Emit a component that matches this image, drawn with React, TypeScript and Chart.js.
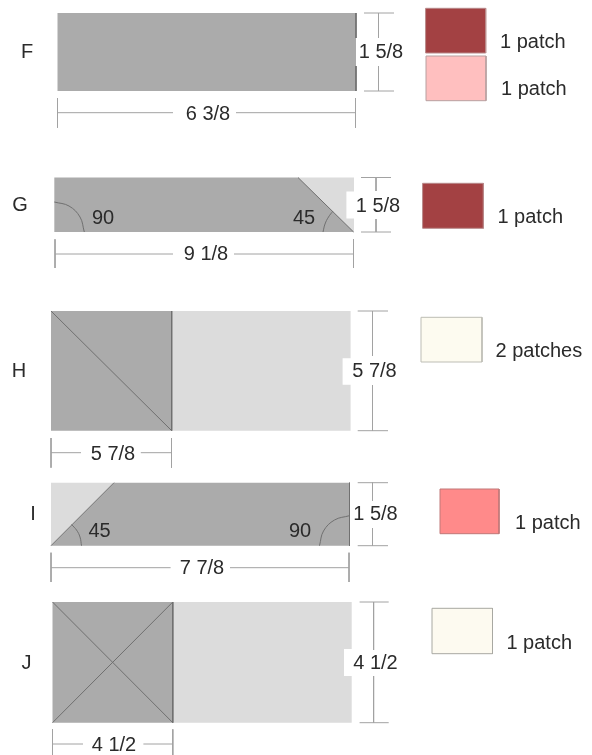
import React, { useEffect, useRef } from "react";
import { Chart, registerables } from "chart.js";

Chart.register(...registerables);

type P = [number, number];

const DARK = "#ababab";
const LIGHT = "#dcdcdc";
const WHITE = "#ffffff";
const DIM = "#a2a2a2";
const EDGE = "#707070";

// Grey template pieces: vertices, in page units
const lightPieces: P[][] = [
  [[298, 177.5], [354, 177.5], [354, 232], [298, 232]],
  [[171.7, 311], [350.6, 311], [350.6, 430.7], [171.7, 430.7]],
  [[51, 482.7], [114, 482.7], [51, 545.7]],
  [[172.8, 602], [351.7, 602], [351.7, 722.7], [172.8, 722.7]],
];
const darkPieces: P[][] = [
  [[57.5, 13], [356, 13], [356, 91], [57.5, 91]],
  [[54.3, 177.5], [298, 177.5], [353.6, 232], [54.3, 232]],
  [[51, 311], [171.7, 311], [171.7, 430.7], [51, 430.7]],
  [[114, 482.7], [349.5, 482.7], [349.5, 545.7], [51, 545.7]],
  [[52.5, 602], [172.8, 602], [172.8, 722.7], [52.5, 722.7]],
];
const labelNotches: P[][] = [
  [[346.4, 191.5], [356, 191.5], [356, 218.5], [346.4, 218.5]],
  [[342.6, 358.3], [352, 358.3], [352, 384.7], [342.6, 384.7]],
  [[344, 649], [353, 649], [353, 676], [344, 676]],
];

// Seam lines inside the pieces
const seams: P[][] = [
  [[356, 13], [356, 38]],
  [[356, 66], [356, 91]],
  [[298, 177.5], [353.6, 232]],
  [[51, 311], [171.7, 430.7]],
  [[171.7, 311], [171.7, 430.7]],
  [[114, 482.7], [51, 545.7]],
  [[349.5, 482.7], [349.5, 545.7]],
  [[52.5, 602], [172.8, 722.7]],
  [[52.5, 722.7], [172.8, 602]],
  [[172.8, 602], [172.8, 722.7]],
];

// Angle arcs (read as four points each, smoothed by the line's tension)
const angleArcs: P[][] = [
  [[54.3, 202], [69, 206], [80, 217], [84.3, 232]],
  [[323, 232], [325, 224], [328.5, 217], [333, 211]],
  [[71.5, 524.5], [76.5, 530], [80, 537], [81.5, 545.7]],
  [[319.5, 545.7], [323.5, 531], [334.5, 520], [349.5, 515.7]],
];

// Dimension lines: [start, end] pairs
const dimensionLines: P[][] = [
  // F
  [[364, 13], [394, 13]], [[364, 91], [394, 91]],
  [[378.5, 13], [378.5, 38]], [[378.5, 66], [378.5, 91]],
  [[57.5, 98], [57.5, 127.7]], [[355.5, 98], [355.5, 127.7]],
  [[57.5, 112.7], [173, 112.7]], [[236, 112.7], [355.5, 112.7]],
  // G
  [[361, 177.5], [391, 177.5]], [[361, 232], [391, 232]],
  [[376, 177.5], [376, 191]], [[376, 219], [376, 232]],
  [[55, 239.3], [55, 268]], [[353.5, 239.3], [353.5, 268]],
  [[55, 254], [173, 254]], [[234, 254], [353.5, 254]],
  // H
  [[357.7, 311], [388, 311]], [[357.7, 430.7], [388, 430.7]],
  [[372.5, 311], [372.5, 356]], [[372.5, 385], [372.5, 430.7]],
  [[51, 438], [51, 467.7]], [[171.5, 438], [171.5, 467.7]],
  [[51, 452.7], [81, 452.7]], [[140.8, 452.7], [171.5, 452.7]],
  // I
  [[357.7, 482.7], [388, 482.7]], [[357.7, 545.7], [388, 545.7]],
  [[372.5, 482.7], [372.5, 500.7]], [[372.5, 528], [372.5, 545.7]],
  [[51, 552.7], [51, 582]], [[349, 552.7], [349, 582]],
  [[51, 567.7], [170.6, 567.7]], [[230, 567.7], [349, 567.7]],
  // J
  [[359.6, 602], [388.7, 602]], [[359.6, 722.7], [388.7, 722.7]],
  [[373.6, 602], [373.6, 650]], [[373.6, 676], [373.6, 722.7]],
  [[52.5, 729.3], [52.5, 755]], [[172.8, 729.3], [172.8, 755]],
  [[52.5, 744], [83, 744]], [[143.4, 744], [172.8, 744]],
];

// Fabric swatches: [left, top, right, bottom, fill, border]
const swatches: [number, number, number, number, string, string][] = [
  [425.6, 8.3, 485.7, 53, "#a34143", "#b98a8b"],
  [426, 56, 486, 100.7, "#ffbfbf", "#b8a0a0"],
  [422.6, 183.3, 483.4, 228.3, "#a34143", "#b98a8b"],
  [421, 317.3, 482, 362, "#fdfbf0", "#bdbdb5"],
  [440, 489, 499, 533.7, "#ff8a8a", "#c07878"],
  [432, 608.3, 492.5, 653.7, "#fdfaf0", "#a8a8a2"],
];

// Text: [text, x, y, align]
const blockLetters: [string, number, number, CanvasTextAlign][] = [
  ["F", 27, 52.5, "center"],
  ["G", 20, 205.5, "center"],
  ["H", 19, 371.5, "center"],
  ["I", 33, 514.2, "center"],
  ["J", 26.4, 663.2, "center"],
];
const measures: [string, number, number, CanvasTextAlign][] = [
  ["1 5/8", 381, 52.5, "center"],
  ["6 3/8", 208, 114.5, "center"],
  ["1 5/8", 378, 206, "center"],
  ["9 1/8", 206, 254.5, "center"],
  ["5 7/8", 374.5, 371.5, "center"],
  ["5 7/8", 113, 454.2, "center"],
  ["1 5/8", 375.5, 514.8, "center"],
  ["7 7/8", 202, 568.5, "center"],
  ["4 1/2", 375.5, 663.2, "center"],
  ["4 1/2", 114, 745.5, "center"],
];
const angles: [string, number, number, CanvasTextAlign][] = [
  ["90", 103, 218.2, "center"],
  ["45", 304, 218.5, "center"],
  ["45", 99.6, 531.5, "center"],
  ["90", 300, 531.5, "center"],
];
const patchCounts: [string, number, number, CanvasTextAlign][] = [
  ["1 patch", 500, 42.5, "left"],
  ["1 patch", 501, 89.5, "left"],
  ["1 patch", 497.4, 217.5, "left"],
  ["2 patches", 495.5, 351.5, "left"],
  ["1 patch", 515, 523.2, "left"],
  ["1 patch", 506.4, 643.2, "left"],
];

const toPts = (pts: P[]) => pts.map(([x, y]) => ({ x, y }));

const polygon = (pts: P[], fill: string, border = "transparent", bw = 0) => ({
  data: toPts([...pts, pts[0]]),
  backgroundColor: fill,
  borderColor: border,
  borderWidth: bw,
  fill: "shape" as const,
  showLine: true,
  pointRadius: 0,
  tension: 0,
});

const stroke = (pts: P[], color: string, width: number, tension = 0) => ({
  data: toPts(pts),
  borderColor: color,
  borderWidth: width,
  backgroundColor: "transparent",
  fill: false,
  showLine: true,
  pointRadius: 0,
  tension,
});

const textPlugin = {
  id: "pageText",
  afterDatasetsDraw(chart: any) {
    const { ctx, scales } = chart;
    ctx.save();
    ctx.fillStyle = "#2b2b2b";
    ctx.font = '20px "Liberation Sans"';
    ctx.textBaseline = "middle";
    for (const [t, x, y, align] of [...blockLetters, ...measures, ...angles, ...patchCounts]) {
      ctx.textAlign = align;
      ctx.fillText(t, scales.x.getPixelForValue(x), scales.y.getPixelForValue(y));
    }
    ctx.restore();
  },
};

export default function App() {
  const ref = useRef<HTMLCanvasElement>(null);
  useEffect(() => {
    document.body.style.margin = "0";
    const painted: any[] = [
      ...lightPieces.map((p) => polygon(p, LIGHT)),
      ...darkPieces.map((p) => polygon(p, DARK)),
      ...labelNotches.map((p) => polygon(p, WHITE)),
      ...seams.map((p) => stroke(p, EDGE, 1)),
      ...angleArcs.map((p) => stroke(p, EDGE, 1, 0.4)),
      ...dimensionLines.map((p) => stroke(p, DIM, 1)),
      ...swatches.map(([l, t, r, b, fill, border]) =>
        polygon([[l, t], [r, t], [r, b], [l, b]], fill, border, 1)
      ),
    ];
    const datasets = painted.map((d, i) => ({ ...d, order: painted.length - i }));
    const chart = new Chart(ref.current!, {
      type: "scatter",
      data: { datasets },
      options: {
        animation: false,
        responsive: false,
        devicePixelRatio: 1,
        layout: { padding: 0 },
        scales: {
          x: { type: "linear", min: 0, max: 592, display: false },
          y: { type: "linear", min: 0, max: 755, reverse: true, display: false },
        },
        plugins: {
          legend: { display: false },
          tooltip: { enabled: false },
          filler: { drawTime: "beforeDatasetDraw", propagate: false },
        },
      } as any,
      plugins: [textPlugin],
    });
    return () => chart.destroy();
  }, []);
  return (
    <canvas
      ref={ref}
      width={592}
      height={755}
      style={{ display: "block", width: 592, height: 755, background: "#fff", filter: "blur(0.35px)" }}
    />
  );
}
